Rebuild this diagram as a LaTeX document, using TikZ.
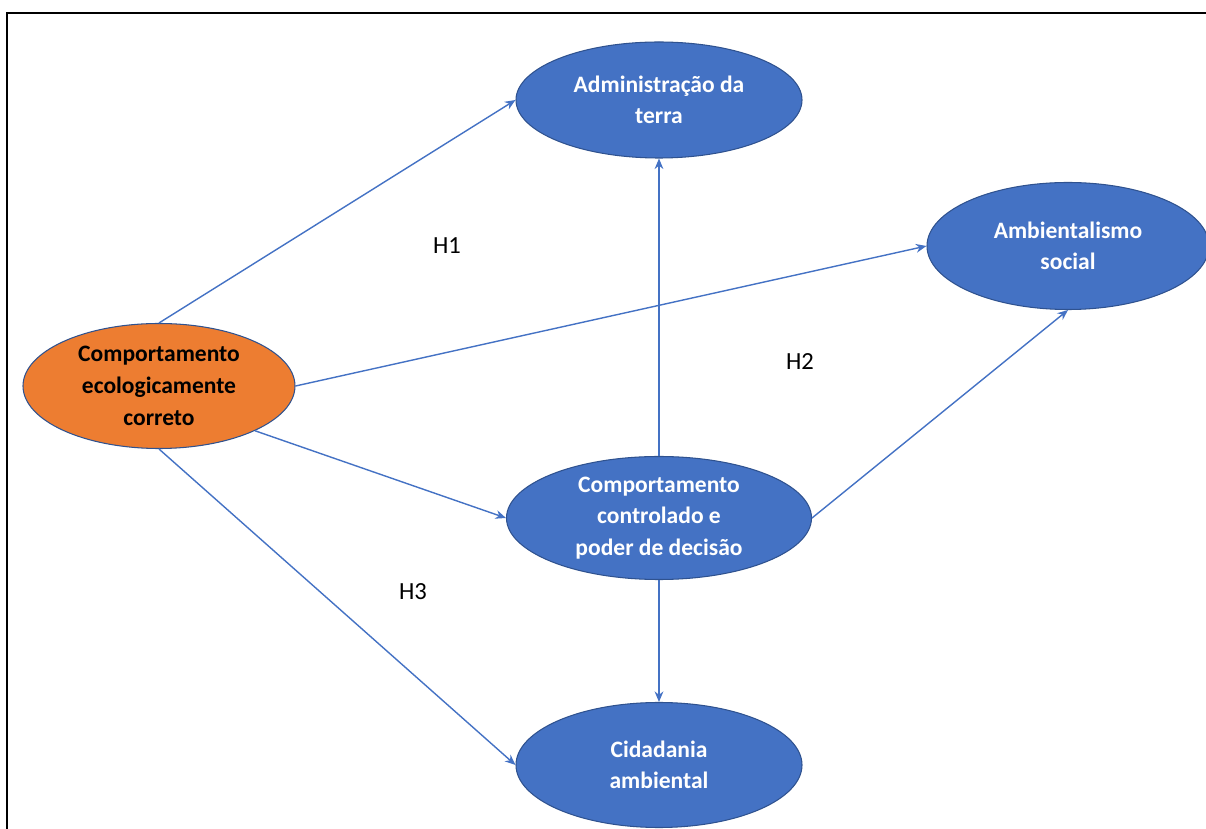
\documentclass[tikz,border=0pt]{standalone}
\usepackage{fontspec}
\setmainfont{Carlito}
\usetikzlibrary{shapes.geometric,arrows.meta}
\definecolor{boxblue}{HTML}{4472C4}
\definecolor{rimblue}{HTML}{2F528F}
\definecolor{boxorange}{HTML}{ED7D31}
\begin{document}
\begin{tikzpicture}[
    var/.style={ellipse,draw=rimblue,line width=0.6pt,fill=boxblue,text=white,
      inner sep=0pt,align=center,font=\bfseries\fontsize{13.4}{18}\selectfont},
    hyp/.style={font=\fontsize{14}{16}\selectfont},
    link/.style={draw=boxblue,line width=0.8pt,-{Stealth[length=6pt,width=5pt]}}
  ]
  \useasboundingbox (0,0) rectangle (24.12,-16.58);
  \draw[line width=1.2pt] (0.14,-16.58) -- (0.14,-0.26) -- (24.12,-0.26);
  \draw
    (3.18,-7.72) node[var,fill=boxorange,text=black,minimum width=5.44cm,minimum height=2.5cm] (eco){Comportamento\\ecologicamente\\correto}
    (13.18,-2.0) node[var,minimum width=5.72cm,minimum height=2.32cm] (adm){Administração da\\terra}
    (21.36,-4.92) node[var,minimum width=5.64cm,minimum height=2.54cm] (amb){Ambientalismo\\social}
    (13.18,-10.36) node[var,minimum width=6.1cm,minimum height=2.46cm] (ctl){Comportamento\\controlado e\\poder de decisão}
    (13.18,-15.3) node[var,minimum width=5.72cm,minimum height=2.5cm] (cid){Cidadania\\ambiental}
    (8.94,-4.92) node[hyp] (h1){H1}
    (16.0,-7.24) node[hyp] (h2){H2}
    (8.26,-11.84) node[hyp] (h3){H3};
  \begin{scope}[link]
    \draw (eco.north) to (adm.west);
    \draw (eco.east) to (amb.west);
    \draw (eco.-25) to (ctl.west);
    \draw (eco.south) to (cid.west);
    \draw (ctl.north) to (adm.south);
    \draw (ctl.east) to (amb.south);
    \draw (ctl.south) to (cid.north);
  \end{scope}
\end{tikzpicture}
\end{document}
